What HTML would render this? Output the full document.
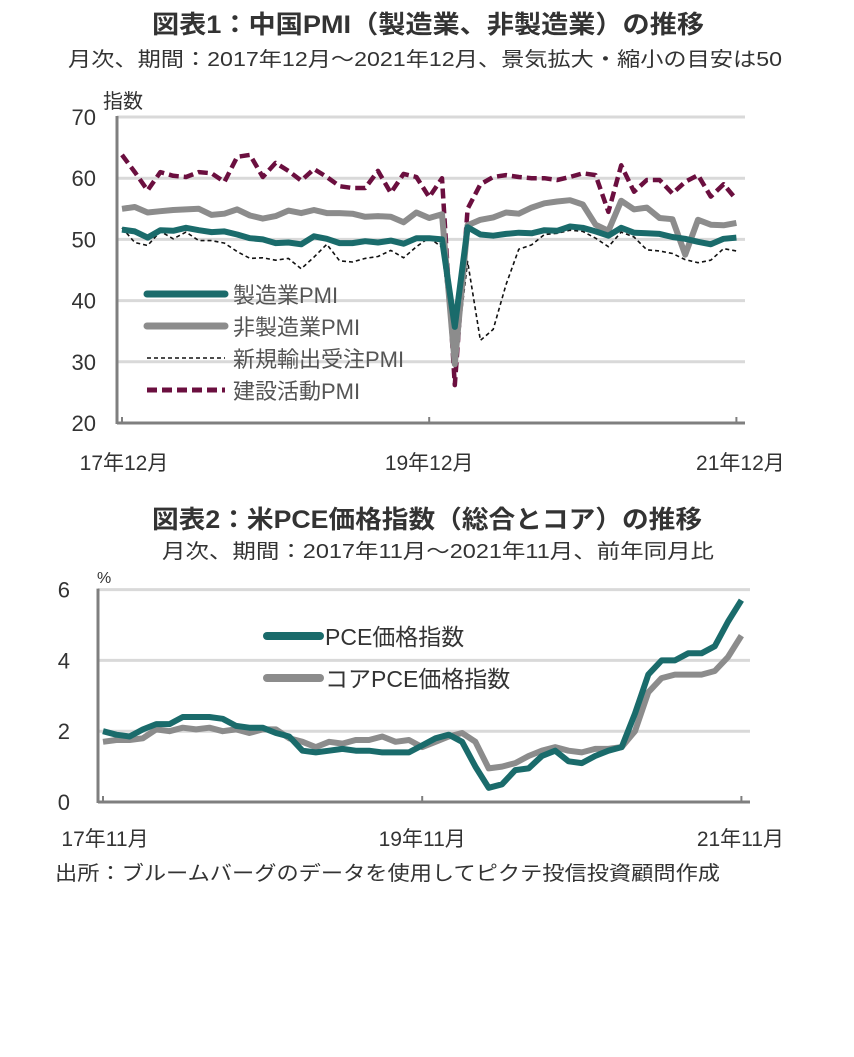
<!DOCTYPE html>
<html><head><meta charset="utf-8"><style>
body{margin:0;background:#fff;}
svg text{font-family:"Liberation Sans","Noto Sans CJK JP",sans-serif;}
</style></head><body>
<svg id="s" width="854" height="1052" viewBox="0 0 854 1052" xmlns="http://www.w3.org/2000/svg">
<text x="428" y="33" text-anchor="middle" font-size="25" font-weight="bold" fill="#333" textLength="552" lengthAdjust="spacingAndGlyphs">図表1：中国PMI（製造業、非製造業）の推移</text>
<text x="425" y="66" text-anchor="middle" font-size="20" fill="#333" textLength="714" lengthAdjust="spacingAndGlyphs">月次、期間：2017年12月～2021年12月、景気拡大・縮小の目安は50</text>
<text x="103" y="108" font-size="20" fill="#333">指数</text>
<g id="c1"></g>
<text x="427" y="528" text-anchor="middle" font-size="25" font-weight="bold" fill="#333" textLength="550" lengthAdjust="spacingAndGlyphs">図表2：米PCE価格指数（総合とコア）の推移</text>
<text x="438" y="558" text-anchor="middle" font-size="20" fill="#333" textLength="552" lengthAdjust="spacingAndGlyphs">月次、期間：2017年11月～2021年11月、前年同月比</text>
<text x="97" y="583" font-size="16" fill="#333">%</text>
<g id="c2"></g>
<text x="55" y="880" font-size="20" fill="#333" textLength="665" lengthAdjust="spacingAndGlyphs">出所：ブルームバーグのデータを使用してピクテ投信投資顧問作成</text>
</svg>
<script>
const NS="http://www.w3.org/2000/svg";
const c1Ticks=[20,30,40,50,60,70];
const c1XLabels=["17年12月","19年12月","21年12月"];
const c1Mfg=[51.6,51.3,50.3,51.5,51.4,51.9,51.5,51.2,51.3,50.8,50.2,50.0,49.4,49.5,49.2,50.5,50.1,49.4,49.4,49.7,49.5,49.8,49.3,50.2,50.2,50.0,35.7,52.0,50.8,50.6,50.9,51.1,51.0,51.5,51.4,52.1,51.9,51.3,50.6,51.9,51.1,51.0,50.9,50.4,50.1,49.6,49.2,50.1,50.3];
const c1NonMfg=[55.0,55.3,54.4,54.6,54.8,54.9,55.0,54.0,54.2,54.9,53.9,53.4,53.8,54.7,54.3,54.8,54.3,54.3,54.2,53.7,53.8,53.7,52.8,54.4,53.5,54.1,29.6,52.3,53.2,53.6,54.4,54.2,55.2,55.9,56.2,56.4,55.7,52.4,51.4,56.3,54.9,55.2,53.5,53.3,47.5,53.2,52.4,52.3,52.7];
const c1Export=[51.9,49.5,49.0,51.3,50.1,51.2,49.8,49.8,49.4,48.0,46.9,47.0,46.6,46.9,45.2,47.1,49.2,46.5,46.3,46.9,47.2,48.2,47.0,48.8,50.3,48.7,28.7,46.4,33.5,35.3,42.6,48.4,49.1,50.8,51.0,51.5,51.3,50.2,48.8,51.2,50.4,48.3,48.1,47.7,46.7,46.2,46.6,48.5,48.1];
const c1Constr=[63.8,61.0,58.0,61.0,60.4,60.2,61.0,60.8,59.4,63.5,63.8,60.2,62.5,61.2,59.6,61.5,60.2,58.7,58.4,58.4,61.2,57.6,60.7,60.2,56.9,60.0,26.2,55.0,59.0,60.2,60.5,60.2,60.0,60.0,59.7,60.2,60.8,60.5,54.5,62.1,57.8,59.7,59.7,57.5,59.4,60.5,57.0,59.0,56.5];
const c2Ticks=[0,2,4,6];
const c2XLabels=["17年11月","19年11月","21年11月"];
const c2Pce=[2.0,1.9,1.85,2.05,2.2,2.2,2.4,2.4,2.4,2.35,2.15,2.1,2.1,1.95,1.85,1.45,1.4,1.45,1.5,1.45,1.45,1.4,1.4,1.4,1.6,1.8,1.9,1.7,1.0,0.4,0.5,0.9,0.95,1.3,1.45,1.15,1.1,1.3,1.45,1.55,2.5,3.6,4.0,4.0,4.2,4.2,4.4,5.1,5.7];
const c2Core=[1.7,1.75,1.75,1.8,2.05,2.0,2.1,2.05,2.1,2.0,2.05,1.95,2.05,2.05,1.8,1.7,1.55,1.7,1.65,1.75,1.75,1.85,1.7,1.75,1.55,1.7,1.85,1.95,1.7,0.95,1.0,1.1,1.3,1.45,1.55,1.45,1.4,1.5,1.5,1.55,2.0,3.1,3.5,3.6,3.6,3.6,3.7,4.1,4.7];

function mk(tag,attrs,parent,txt){const e=document.createElementNS(NS,tag);for(const k in attrs)e.setAttribute(k,attrs[k]);if(txt!=null)e.textContent=txt;parent.appendChild(e);return e;}

(function(){
const g=document.getElementById('c1');
const x=i=>122+i*12.8, y=v=>423-(v-20)*6.12;
const L=117,R=745;
c1Ticks.forEach(t=>{
 if(t>20){const gl=mk('line',{x1:L,x2:R,y1:y(t),y2:y(t),stroke:'#d9d9d9','stroke-width':3},g);
 
 }
 const tx=mk('text',{x:96,y:y(t)+8,'text-anchor':'end','font-size':22,fill:'#333'},g,t);
 
 
});
mk('line',{x1:L,x2:L,y1:y(70)-1,y2:y(20)+1,stroke:'#7f7f7f','stroke-width':3},g);
mk('line',{x1:L,x2:R,y1:y(20),y2:y(20),stroke:'#7f7f7f','stroke-width':3},g);
[0,24,48].forEach((m,k)=>{
 mk('line',{x1:x(m),x2:x(m),y1:y(20),y2:y(20)-6,stroke:'#7f7f7f','stroke-width':2},g);
 const t=mk('text',{x:x(m)+(k==0?2:k==2?4:0),y:470,'text-anchor':'middle','font-size':21,fill:'#333'},g,c1XLabels[k]);
 
 
});
const series=[[c1Export,'#111',1.6,'4 3','export-orders-line'],[c1Constr,'#6b0f3f',4.5,'10 5','construction-line'],[c1NonMfg,'#8c8c8c',6,null,'non-manufacturing-line'],[c1Mfg,'#1a6b6b',6,null,'manufacturing-line']];
series.forEach(s=>{
 const d=s[0].map((v,i)=>(i?'L':'M')+x(i).toFixed(1)+' '+y(v).toFixed(1)).join('');
 const a={d:d,fill:'none',stroke:s[1],'stroke-width':s[2],'stroke-linejoin':'round'};
 if(s[3])a['stroke-dasharray']=s[3];
 const p=mk('path',a,g);
 
 
});
const leg=[['製造業PMI','#1a6b6b',7,null],['非製造業PMI','#8c8c8c',7,null],['新規輸出受注PMI','#111',1.6,'4 3'],['建設活動PMI','#6b0f3f',5,'10 5']];
leg.forEach((l,k)=>{
 const yy=294+k*32;
 const a={x1:147,x2:225,y1:yy,y2:yy,stroke:l[1],'stroke-width':l[2],'stroke-linecap':l[3]?'butt':'round'};
 if(l[3])a['stroke-dasharray']=l[3];
 mk('line',a,g);
 const t=mk('text',{x:233,y:yy+9,'font-size':22,fill:'#555'},g,l[0]);
 
 
});
})();

(function(){
const g=document.getElementById('c2');
const x=i=>103+i*13.3, y=v=>802-v*35.4;
const L=98,R=750;
c2Ticks.forEach(t=>{
 if(t>0){const gl=mk('line',{x1:L,x2:R,y1:y(t),y2:y(t),stroke:'#d9d9d9','stroke-width':3},g);
 
 }
 const tx=mk('text',{x:70,y:y(t)+8,'text-anchor':'end','font-size':22,fill:'#333'},g,t);
 
 
});
mk('line',{x1:L,x2:L,y1:y(6)-1,y2:y(0)+1,stroke:'#7f7f7f','stroke-width':3},g);
mk('line',{x1:L,x2:R,y1:y(0),y2:y(0),stroke:'#7f7f7f','stroke-width':3},g);
[0,24,48].forEach((m,k)=>{
 mk('line',{x1:x(m),x2:x(m),y1:y(0),y2:y(0)-6,stroke:'#7f7f7f','stroke-width':2},g);
 const t=mk('text',{x:x(m)+(k==0?2:k==2?-1:0),y:846,'text-anchor':'middle','font-size':21,fill:'#333'},g,c2XLabels[k]);
 
 
});
[[c2Core,'#8c8c8c','core-pce-line'],[c2Pce,'#1a6b6b','pce-line']].forEach(s=>{
 const d=s[0].map((v,i)=>(i?'L':'M')+x(i).toFixed(1)+' '+y(v).toFixed(1)).join('');
 const p=mk('path',{d:d,fill:'none',stroke:s[1],'stroke-width':6,'stroke-linejoin':'round'},g);
 
 
});
[['PCE価格指数','#1a6b6b'],['コアPCE価格指数','#8c8c8c']].forEach((l,k)=>{
 const yy=636+k*42;
 mk('line',{x1:267,x2:320,y1:yy,y2:yy,stroke:l[1],'stroke-width':8,'stroke-linecap':'round'},g);
 const t=mk('text',{x:325,y:yy+9,'font-size':23,fill:'#333'},g,l[0]);
 
 
});
})();
</script>
</body></html>
